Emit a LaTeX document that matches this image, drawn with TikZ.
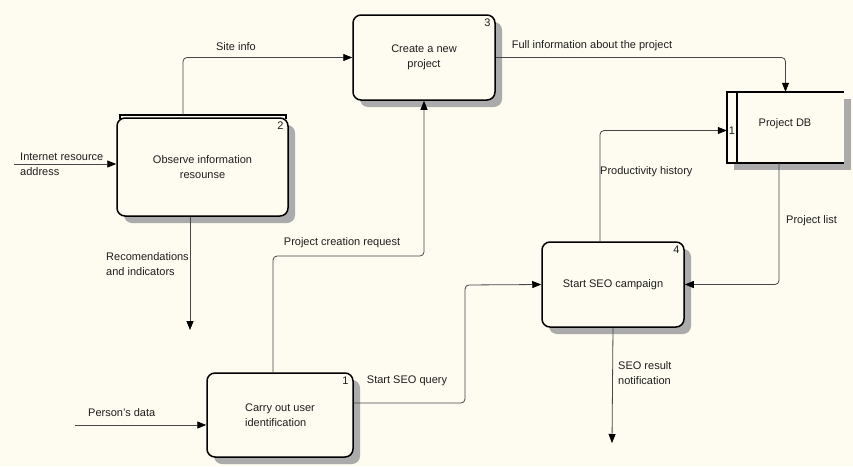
\documentclass[tikz,border=0pt]{standalone}
\usepackage{fontspec}
\setmainfont{Liberation Sans}
\usetikzlibrary{arrows.meta,shadows,patterns}

\definecolor{paper}{RGB}{254,251,241}
\definecolor{ink}{RGB}{30,30,30}

\begin{document}
\begin{tikzpicture}[
    x=1pt, y=-1pt,
    font=\fontsize{11}{15.5}\selectfont,
    text=ink,
    % Style for the rounded process boxes
    process/.style={rectangle, rounded corners=8pt, draw=black, line width=1.5pt,
        fill=paper, align=center, inner sep=2pt,
        drop shadow={shadow xshift=7pt, shadow yshift=-7pt, opacity=1,
            fill=black!33}},
    % Style for the data store (open on the right)
    store/.style={rectangle, fill=paper, inner sep=0pt,
        drop shadow={shadow xshift=7pt, shadow yshift=-7pt, opacity=1,
            fill=black!33}},
    storeline/.style={line width=1.5pt, black},
    % Style for the data flows
    flow/.style={draw=black!72, line width=0.8pt, rounded corners=4pt,
        -{Triangle[length=9pt,width=7pt,color=black]}},
    num/.style={anchor=north east, inner sep=1pt},
    lbl/.style={inner sep=1pt, align=left}
]

    \useasboundingbox (0,0) rectangle (853,466);
    \fill[paper] (0,0) rectangle (853,466);

    % --- 1. Boxes ---
    \node[process, minimum width=171pt, minimum height=98pt] (observe) at (202.5,167)
        {Observe information\\resounse};
    \node[process, minimum width=142pt, minimum height=85pt] (create) at (424,57.5)
        {Create a new\\project};
    \node[process, minimum width=146pt, minimum height=84pt, align=left] (identify) at (280,415)
        {Carry out user\\identification};
    \node[process, minimum width=142pt, minimum height=85pt] (campaign) at (613,284.5)
        {Start SEO campaign};
    \node[store, minimum width=117pt, minimum height=71pt] (projdb) at (785.5,127.5) {};

    % numbers in the corners
    \node[num] at ([xshift=-4pt,yshift=-3pt]observe.north east) {2};
    \node[num] at ([xshift=-4pt,yshift=-3pt]create.north east) {3};
    \node[num] at ([xshift=-4pt,yshift=-3pt]identify.north east) {1};
    \node[num] at ([xshift=-4pt,yshift=-3pt]campaign.north east) {4};

    % tunnel bracket above box 2
    \draw[line width=1.2pt] (120,118.5) -- (120,115) -- (286,115) -- (286,118.5);

    % data store frame
    \draw[storeline] (projdb.north east) -- (projdb.north west) -- (projdb.south west)
        -- (projdb.south east);
    \draw[storeline] ([xshift=10pt]projdb.north west) -- ([xshift=10pt]projdb.south west);
    \node[inner sep=0pt] at ([xshift=5pt,yshift=-3pt]projdb.west) {1};
    \node (dbtext) at (785,124) {Project DB};

    % --- 2. Free ends ---
    \coordinate (inet) at (14,164);
    \coordinate (pdata) at (75,425);
    \coordinate (recout) at (190,330);
    \coordinate (seoout) at (612,443);
    \coordinate (site) at (183,115);
    \coordinate (bend1) at (424,256);
    \coordinate (bend2) at (465,285);

    % --- 3. Flows ---
    \draw[flow] (inet) -- (inet -| observe.west);
    \draw[flow] (site) |- (create.west);
    \draw[flow] (create.east) -| (projdb.north);
    \draw[flow] ([xshift=-13pt]campaign.north) |- ([yshift=-3pt]projdb.west);
    \draw[flow] ([xshift=-6.5pt]projdb.south) |- (campaign.east);
    \draw[flow] ([xshift=-12.5pt]observe.south) -- (recout);
    \draw[flow] ([xshift=-7pt]identify.north) |- (bend1) -- (create.south);
    \draw[flow] ([yshift=12pt]identify.east) -| (bend2) -- (campaign.west);
    \draw[flow] (campaign.south) -- (seoout);
    \draw[flow] (pdata) -- (pdata -| identify.west);

    % --- 4. Flow labels ---
    \node[lbl, anchor=west] at (19,164.5) {Internet resource\\address};
    \node[lbl] at (236,47) {Site info};
    \node[lbl] at (592,46) {Full information about the project};
    \node[lbl, anchor=west] at (599,172) {Productivity history};
    \node[lbl, anchor=west] at (785,221) {Project list};
    \node[lbl, anchor=west] at (105,264) {Recomendations\\and indicators};
    \node[lbl] at (342,243) {Project creation request};
    \node[lbl] at (407,381) {Start SEO query};
    \node[lbl, anchor=west] at (617,373) {SEO result\\notification};
    \node[lbl, anchor=west] at (87,413) {Person's data};

\end{tikzpicture}
\end{document}
